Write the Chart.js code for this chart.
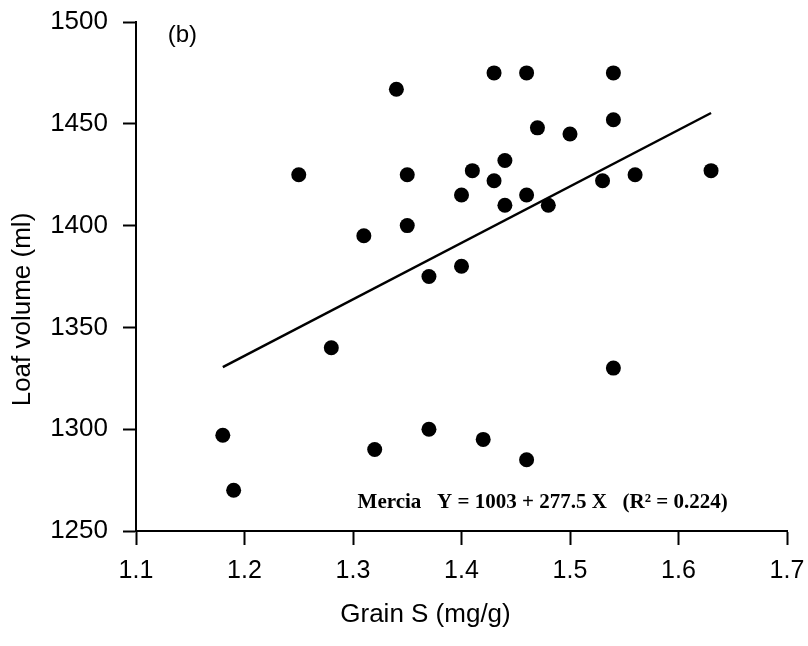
<!DOCTYPE html>
<html>
<head>
<meta charset="utf-8">
<script src="https://cdn.jsdelivr.net/npm/chart.js@4/dist/chart.umd.min.js"></script>
<style>
html,body{margin:0;padding:0;background:#fff;}
#wrap{width:808px;height:646px;}
</style>
</head>
<body>
<div id="wrap"><canvas id="c" width="808" height="646"></canvas></div>
<script>
// Data
const grainS = [1.18, 1.19, 1.25, 1.28, 1.31, 1.32, 1.34, 1.35, 1.35, 1.37, 1.37, 1.40, 1.40, 1.41, 1.42, 1.43, 1.43, 1.44, 1.44, 1.46, 1.46, 1.46, 1.47, 1.48, 1.50, 1.53, 1.54, 1.54, 1.54, 1.56, 1.63];
const loafVolume = [1297, 1270, 1425, 1340, 1395, 1290, 1467, 1425, 1400, 1375, 1300, 1415, 1380, 1427, 1295, 1475, 1422, 1432, 1410, 1475, 1415, 1285, 1448, 1410, 1445, 1422, 1475, 1452, 1330, 1425, 1427];
const fitX = [1.18, 1.63];
const fitY = [1330.5, 1455.3];
const xTickLabels = ['1.1', '1.2', '1.3', '1.4', '1.5', '1.6', '1.7'];
const yTickLabels = ['1250', '1300', '1350', '1400', '1450', '1500'];
const xTitle = 'Grain S (mg/g)';
const yTitle = 'Loaf volume (ml)';
const panelLabel = '(b)';
const equationText = 'Mercia   Y = 1003 + 277.5 X   (R\u00B2 = 0.224)';

const points = grainS.map((x, i) => ({x: x, y: loafVolume[i]}));
const fitLine = fitX.map((x, i) => ({x: x, y: fitY[i]}));

const sans = '"Liberation Sans", Arial, sans-serif';

const textPlugin = {
  id: 'texts',
  afterDraw(chart) {
    const ctx = chart.ctx;
    const xs = chart.scales.x, ys = chart.scales.y;
    const area = chart.chartArea;
    ctx.save();
    ctx.fillStyle = '#000';
    // panel label
    ctx.font = '24px ' + sans;
    ctx.textAlign = 'left';
    ctx.textBaseline = 'middle';
    ctx.fillText(panelLabel, xs.getPixelForValue(1.1292), ys.getPixelForValue(1493.2));
    // equation
    ctx.font = 'bold 21px "Liberation Serif", "Times New Roman", serif';
    ctx.textAlign = 'center';
    ctx.fillText(equationText, xs.getPixelForValue(1.4748), ys.getPixelForValue(1264.1));
    // axis titles
    ctx.font = '26px ' + sans;
    ctx.textAlign = 'center';
    ctx.textBaseline = 'middle';
    ctx.fillText(xTitle, (area.left + area.right) / 2 - 36, area.bottom + 84);
    ctx.translate(23, (area.top + area.bottom) / 2 + 33);
    ctx.rotate(-Math.PI / 2);
    ctx.fillText(yTitle, 0, 0);
    ctx.restore();
  }
};

new Chart(document.getElementById('c'), {
  type: 'scatter',
  data: {
    datasets: [
      {
        data: points,
        backgroundColor: '#000',
        borderColor: '#000',
        pointRadius: 7.5,
        pointHoverRadius: 7.5,
        borderWidth: 0
      },
      {
        data: fitLine,
        showLine: true,
        borderColor: '#000',
        borderWidth: 2.5,
        pointRadius: 0,
        pointHoverRadius: 0,
        fill: false
      }
    ]
  },
  options: {
    responsive: false,
    animation: false,
    events: [],
    layout: {padding: {left: 0, right: 21, top: 22, bottom: 0}},
    plugins: {legend: {display: false}, tooltip: {enabled: false}},
    scales: {
      x: {
        type: 'linear',
        min: 1.1, max: 1.7,
        afterFit(scale) { scale.height = 115; scale.paddingLeft = 0; scale.paddingRight = 0; },
        afterBuildTicks(scale) {
          scale.ticks = xTickLabels.map(v => ({value: parseFloat(v)}));
        },
        ticks: {
          color: '#000', font: {family: sans, size: 25}, padding: 11, maxRotation: 0, autoSkip: false,
          callback: (v, i) => xTickLabels[i]
        },
        grid: {drawOnChartArea: false, drawTicks: true, tickLength: 14, tickColor: '#000', tickWidth: 2},
        border: {display: true, color: '#000', width: 2}
      },
      y: {
        type: 'linear',
        min: 1250, max: 1500,
        afterFit(scale) { scale.width = 136; scale.paddingTop = 0; scale.paddingBottom = 0; },
        afterBuildTicks(scale) {
          scale.ticks = yTickLabels.map(v => ({value: parseFloat(v)}));
        },
        ticks: {
          color: '#000', font: {family: sans, size: 26}, padding: 15,
          callback: (v, i) => yTickLabels[i]
        },
        grid: {drawOnChartArea: false, drawTicks: true, tickLength: 13, tickColor: '#000', tickWidth: 2},
        border: {display: true, color: '#000', width: 2}
      }
    }
  },
  plugins: [textPlugin]
});
</script>
</body>
</html>
